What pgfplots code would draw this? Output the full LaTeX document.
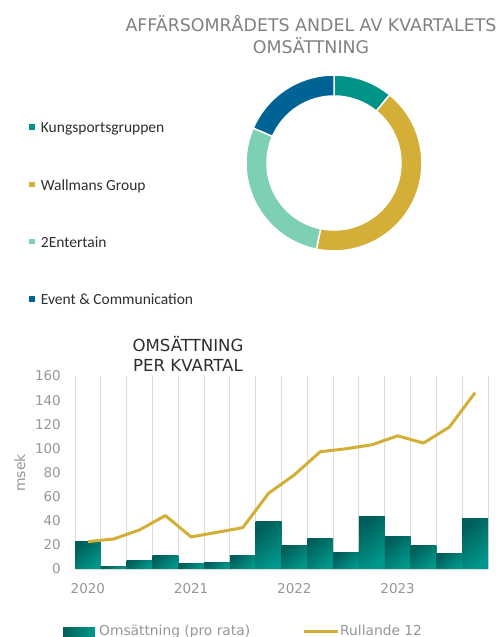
\documentclass[border=0pt]{standalone}
\usepackage{pgfplots}
\pgfplotsset{compat=1.18}
\usepackage{fontspec}
\setmainfont{DejaVu Sans}
\newfontfamily\legfont{Carlito}

\definecolor{tealD}{RGB}{0,95,90}
\definecolor{tealL}{RGB}{0,152,140}
\definecolor{gold}{RGB}{212,175,55}
\definecolor{gridgray}{RGB}{220,220,220}
\definecolor{tickgray}{RGB}{150,150,150}
\definecolor{titlegray}{RGB}{128,128,128}
\definecolor{darktext}{RGB}{45,45,45}
\definecolor{cKung}{RGB}{0,148,136}
\definecolor{cWall}{RGB}{212,175,55}
\definecolor{cEnt}{RGB}{126,208,181}
\definecolor{cEvent}{RGB}{0,99,150}

% quarterly revenue (msek) and rolling 12 months
\pgfplotstableread{
q  oms   rull
0  22.7  22.7
1  2.2   24.9
2  6.9   32.4
3  11.3  44.3
4  4.7   26.6
5  5.8   30.4
6  11.1  34.3
7  39.3  62.8
8  19.7  78.1
9  25.7  97.2
10 13.3  99.7
11 43.2  103.0
12 26.6  110.4
13 19.9  104.4
14 13.0  117.6
15 41.5  146.2
}\quarters

\newcommand\seg[3]{%
  \fill[#1, draw=white, line width=1.5pt]
    ([shift={(#2:88pt)}]axis cs:0,0) arc[start angle=#2, end angle=#3, radius=88pt]
    -- ([shift={(#3:67pt)}]axis cs:0,0) arc[start angle=#3, end angle=#2, radius=67pt]
    -- cycle;}

\begin{document}
\begin{tikzpicture}
\useasboundingbox (0,0) rectangle (501pt,-637pt);

% ---- donut: share of the quarter's revenue (percent)
\pgfmathsetmacro\aA{90}
\pgfmathsetmacro\aB{\aA-3.6*10.9}
\pgfmathsetmacro\aC{\aB-3.6*42.3}
\pgfmathsetmacro\aD{\aC-3.6*28.3}
\pgfmathsetmacro\aE{\aD-3.6*18.5}

\node[anchor=base, align=center, text=titlegray, font=\fontsize{17.4}{21.6}\selectfont]
  at (311pt,-53.3pt) {AFFÄRSOMRÅDETS ANDEL AV KVARTALETS\\OMSÄTTNING};

\begin{axis}[
  at={(334pt,-163pt)}, anchor=center,
  scale only axis, width=176pt, height=176pt,
  xmin=-1, xmax=1, ymin=-1, ymax=1,
  hide axis,
  ]
  \seg{cKung}{\aA}{\aB}
  \seg{cWall}{\aB}{\aC}
  \seg{cEnt}{\aC}{\aD}
  \seg{cEvent}{\aD}{\aE}
\end{axis}

\foreach \c/\t/\y in {cKung/Kungsportsgruppen/127, cWall/Wallmans Group/184.3,
                      cEnt/2Entertain/241.7, cEvent/Event \& Communication/299} {
  \fill[\c] (29.3pt,-\y pt-2.7pt) rectangle (34.7pt,-\y pt+2.7pt);
  \node[anchor=base west, inner sep=0pt, text=darktext, font=\legfont\fontsize{15.5}{16}\selectfont]
    at (40.7pt,-\y pt-5.7pt) {\t};
}

% ---- bars + line
\node[anchor=base, align=center, text=darktext, font=\fontsize{16.6}{20}\selectfont]
  at (188pt,-371pt) {OMSÄTTNING\\PER KVARTAL};

\begin{axis}[
  at={(75pt,-569pt)}, anchor=south west,
  scale only axis, width=413pt, height=193pt,
  xmin=-0.5, xmax=15.5, ymin=0, ymax=160,
  ytick={0,20,...,160},
  xtick={0,4,8,12}, xticklabels={2020,2021,2022,2023},
  minor xtick={-0.5,0.5,...,15.5},
  xminorgrids,
  minor grid style={draw=gridgray, line width=1pt},
  major tick length=0pt, minor tick length=0pt,
  tick style={draw=none},
  axis line style={draw=none},
  /pgf/number format/assume math mode=true,
  ticklabel style={text=tickgray, font=\fontsize{13.5}{14}\selectfont},
  yticklabel style={inner sep=0pt, anchor=east, xshift=-14pt},
  xticklabel style={inner sep=0pt, anchor=north, yshift=-14pt},
  ybar, bar width=1, bar shift=0pt,
  clip=false,
  ]
  % one plot per bar, so that each bar gets its own gradient
  \pgfplotsinvokeforeach{0,...,15}{
    \addplot[draw=none, top color=tealD, bottom color=tealL, shading angle=40,
      restrict expr to domain={\coordindex}{#1:#1}]
      table[x=q, y=oms] {\quarters};
  }
  \draw[gridgray, line width=1pt] (axis cs:-0.5,0) -- (axis cs:15.5,0);
  \addplot[sharp plot, gold, line width=3pt, line join=round, mark=none]
    table[x=q, y=rull] {\quarters};
\end{axis}

\node[rotate=90, text=tickgray, font=\fontsize{14}{14}\selectfont] at (20pt,-473pt) {msek};

% ---- legend
\shade[left color=tealD, right color=tealL] (63pt,-627pt) rectangle (95pt,-640pt);
\node[anchor=base west, inner sep=0pt, text=tickgray, font=\fontsize{13.8}{14}\selectfont]
  at (99pt,-635pt) {Omsättning (pro rata)};
\draw[gold, line width=3pt] (304pt,-631pt) -- (338pt,-631pt);
\node[anchor=base west, inner sep=0pt, text=tickgray, font=\fontsize{13.8}{14}\selectfont]
  at (340pt,-635pt) {Rullande 12};
\end{tikzpicture}
\end{document}
